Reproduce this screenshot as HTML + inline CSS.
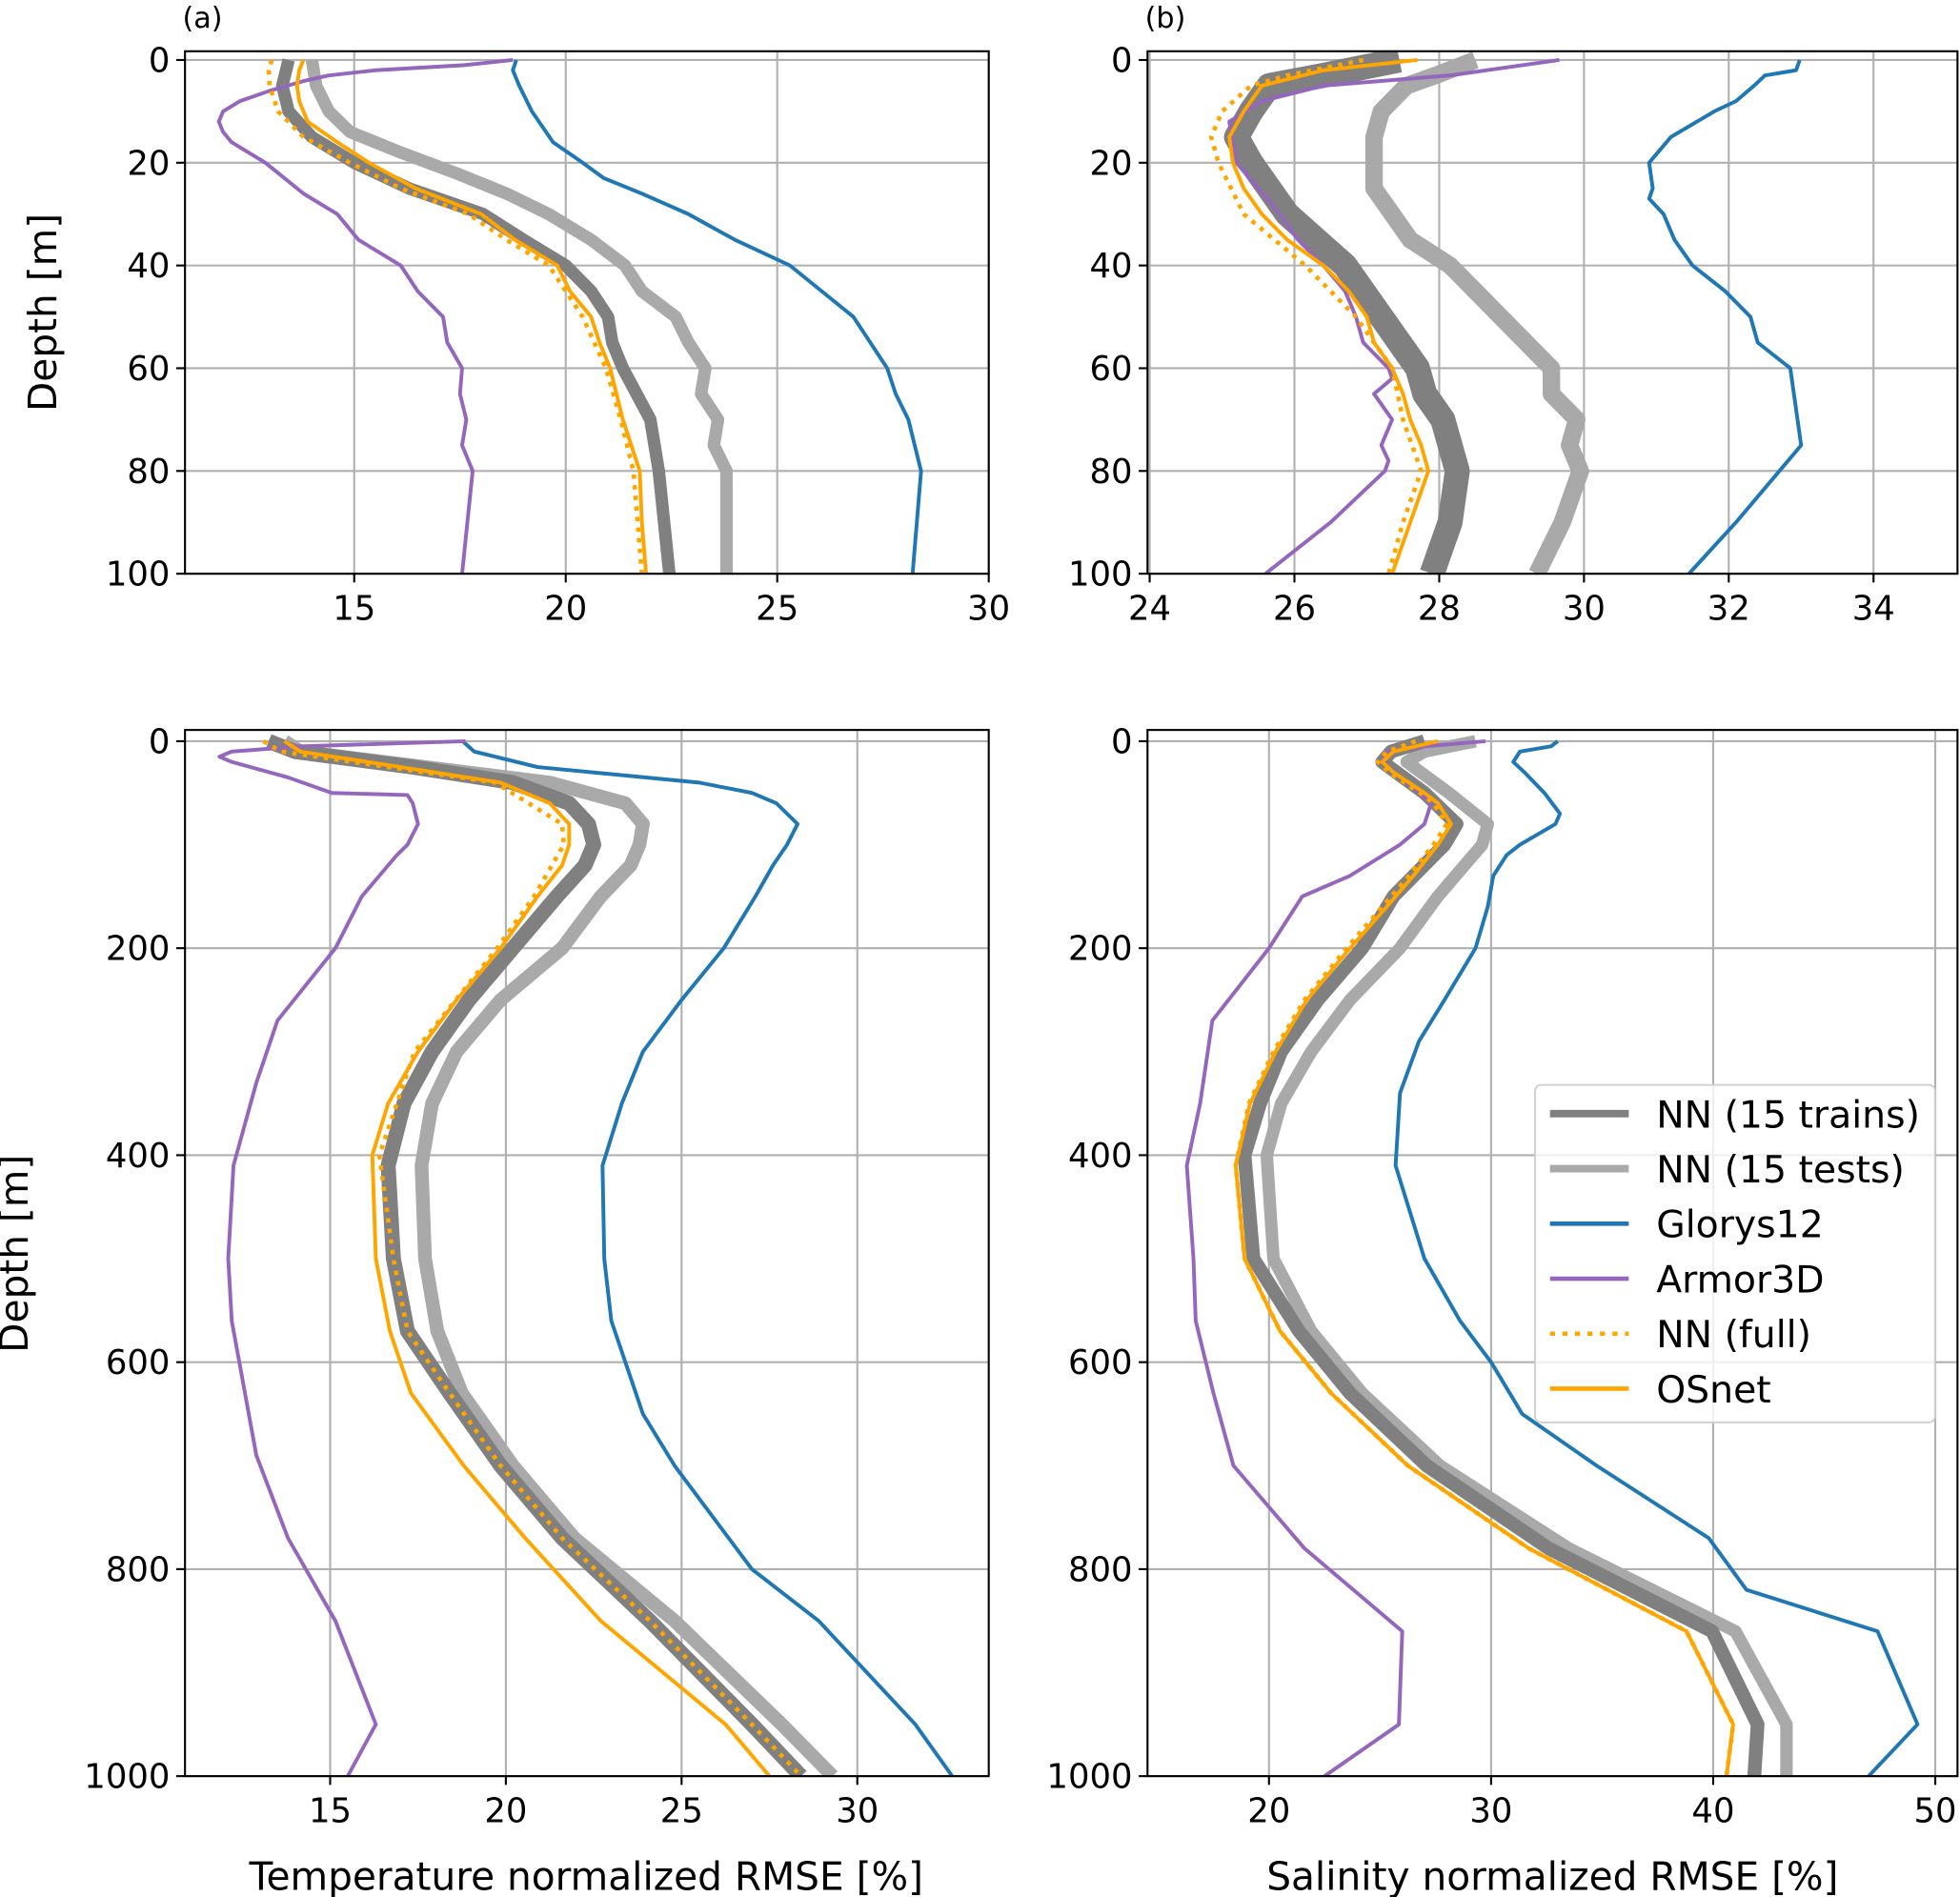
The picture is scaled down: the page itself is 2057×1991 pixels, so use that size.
<!DOCTYPE html>
<html><head><meta charset="utf-8"><style>
html,body{margin:0;padding:0;background:#fff}
svg{display:block}
text{font-family:"DejaVu Sans","Liberation Sans",sans-serif;fill:#000}
</style></head><body>
<svg id="fig" width="2057" height="1991" viewBox="0 0 1568 1517.7" xmlns="http://www.w3.org/2000/svg"></svg>
<script>
// ---- Panel (a): temperature 0-100 m ----
const aGloD=[0,2,5,10,16,20,23,26,30,35,40,50,60,65,70,80,90,100];
const aGloV=[18.83,18.75,18.9,19.2,19.7,20.4,20.9,21.8,22.9,24.0,25.3,26.8,27.6,27.8,28.1,28.4,28.3,28.2];
const aArmD=[0,1,2,3,4,6,8,10,12,14,16,20,26,30,35,40,45,50,55,60,65,70,75,80,100];
const aArmV=[18.75,17.6,15.5,14.4,13.85,13.0,12.3,11.9,11.8,11.9,12.1,12.9,13.8,14.6,15.1,16.1,16.5,17.1,17.2,17.55,17.5,17.65,17.55,17.8,17.55];
const aOsD=[0,2,5,8,12,16,20,25,30,35,40,45,50,55,60,70,80,90,100];
const aOsV=[13.8,13.7,13.65,13.7,13.9,14.6,15.35,16.45,18.0,18.8,19.8,20.1,20.6,20.8,21.05,21.35,21.75,21.8,21.9];
const aFullD=[0,2,5,10,15,20,25,30,35,40,50,60,70,80,100];
const aFullV=[13.05,12.98,13.0,13.2,13.8,14.9,16.1,17.7,18.6,19.6,20.4,20.95,21.3,21.6,21.8];
const aTrD=[0,5,10,15,20,25,30,35,40,45,50,55,60,70,80,100];
const aTrV=[13.45,13.3,13.45,14.0,15.0,16.3,18.05,19.0,20.0,20.6,21.0,21.1,21.35,22.0,22.2,22.45];
const aTeD=[0,5,10,14,18,22,26,30,35,40,45,50,55,60,65,70,75,80,100];
const aTeV=[14.0,14.1,14.4,14.9,16.1,17.4,18.6,19.6,20.6,21.4,21.8,22.6,22.9,23.3,23.2,23.6,23.5,23.8,23.8];
// ---- Panel (b): salinity 0-100 m ----
const bGloD=[0,2,3,5,8,10,15,20,25,27,30,35,40,45,50,55,60,70,75,80,90,100];
const bGloV=[32.98,32.93,32.5,32.35,32.1,31.8,31.2,30.9,30.95,30.9,31.1,31.25,31.5,31.95,32.3,32.4,32.85,32.95,33.0,32.7,32.1,31.45];
const bArmD=[0,3,5,8,12,20,30,35,40,45,50,55,60,62,65,70,75,78,80,90,100];
const bArmV=[29.66,28.15,26.4,25.55,25.1,25.2,25.8,26.05,26.4,26.7,26.85,26.95,27.3,27.35,27.1,27.35,27.2,27.3,27.25,26.5,25.6];
const bOsD=[0,2,5,10,15,20,25,30,35,40,45,50,55,60,65,70,75,80,90,100];
const bOsV=[27.7,26.4,25.55,25.3,25.1,25.15,25.3,25.55,25.9,26.4,26.75,27.0,27.1,27.35,27.5,27.6,27.75,27.85,27.6,27.35];
const bFullD=[0,3,5,10,15,20,30,40,50,60,70,80,90,100];
const bFullV=[26.95,25.9,25.4,25.0,24.85,24.95,25.3,26.15,26.85,27.35,27.5,27.75,27.5,27.3];
const bTrD=[0,3,5,10,15,20,30,40,50,60,65,70,80,90,100];
const bTrV=[27.45,26.4,25.65,25.4,25.2,25.4,25.9,26.7,27.2,27.7,27.8,28.05,28.25,28.15,27.9];
const bTeD=[0,3,5,10,15,20,25,30,35,40,45,50,55,60,65,70,75,80,90,100];
const bTeV=[28.5,27.95,27.55,27.2,27.1,27.1,27.1,27.35,27.6,28.15,28.5,28.85,29.2,29.55,29.55,29.9,29.8,29.95,29.7,29.35];
// ---- Panel (c): temperature 0-1000 m ----
const cGloD=[0,10,25,40,50,60,80,100,120,150,200,250,300,350,410,500,560,650,700,800,850,950,1000];
const cGloV=[18.77,19.1,20.9,25.5,27.0,27.7,28.3,28.0,27.6,27.1,26.2,25.0,23.9,23.3,22.75,22.8,23.0,23.9,24.8,27.0,28.9,31.65,32.7];
const cArmD=[0,5,10,15,20,35,50,52,60,80,100,110,150,200,270,330,410,500,560,690,770,850,950,1000];
const cArmV=[18.85,14.15,12.2,11.85,12.2,13.8,15.05,17.2,17.35,17.5,17.2,16.9,15.9,15.15,13.5,12.9,12.25,12.1,12.2,12.9,13.8,15.15,16.3,15.5];
const cOsD=[0,10,25,40,60,80,100,120,150,200,250,300,350,400,500,570,630,700,770,850,950,1000];
const cOsV=[13.7,14.15,17.0,19.85,21.25,21.8,21.8,21.6,20.9,19.85,18.6,17.5,16.65,16.2,16.3,16.7,17.3,18.8,20.55,22.7,26.25,27.5];
const cFullD=[0,10,25,40,80,100,150,200,300,400,500,570,630,700,770,850,950,1000];
const cFullV=[13.1,13.6,16.65,19.7,21.6,21.65,20.8,19.75,17.4,16.4,16.8,17.2,18.4,19.85,21.6,24.1,27.0,28.4];
const cTrD=[0,10,25,40,60,80,100,120,150,200,250,300,350,410,500,570,630,700,770,850,950,1000];
const cTrV=[13.25,14.0,17.35,20.2,21.8,22.35,22.5,22.25,21.45,20.2,18.95,17.9,17.1,16.65,16.8,17.2,18.4,19.85,21.6,24.1,27.0,28.4];
const cTeD=[0,10,25,40,60,80,100,120,150,200,250,300,350,410,500,570,630,700,770,850,950,1000];
const cTeV=[13.7,14.15,17.7,21.25,23.4,23.9,23.8,23.55,22.7,21.6,19.85,18.6,17.9,17.6,17.7,18.05,18.75,20.2,21.95,24.8,27.85,29.3];
// ---- Panel (d): salinity 0-1000 m ----
const dGloD=[0,5,10,20,30,50,70,80,100,110,130,160,200,250,290,340,410,500,560,600,650,700,770,820,860,950,1000];
const dGloV=[33.0,32.7,31.3,31.0,31.5,32.4,33.1,32.9,31.3,30.7,30.1,29.85,29.3,27.9,26.75,25.9,25.7,27.0,28.6,30.0,31.4,34.75,39.8,41.5,47.4,49.2,47.0];
const dArmD=[0,5,10,20,60,80,100,130,150,200,270,350,410,500,560,630,700,780,860,950,1000];
const dArmV=[29.75,27.0,25.35,25.1,27.3,27.0,25.9,23.65,21.5,20.0,17.45,16.9,16.3,16.6,16.7,17.5,18.4,21.6,26.0,25.85,22.5];
const dOsD=[0,10,20,30,50,60,80,100,130,160,200,250,300,350,410,500,570,630,700,780,860,950,1000];
const dOsV=[27.6,25.6,25.1,25.6,27.0,27.6,28.2,27.6,26.5,25.3,23.65,21.7,20.3,19.15,18.5,18.9,20.5,22.8,26.25,31.7,38.8,40.9,40.6];
const dFullD=[0,10,20,30,50,60,80,100,130,160,200,250,300,350,410,500,570,630,700,780,860,950,1000];
const dFullV=[26.6,25.3,24.9,25.4,26.8,27.4,28.0,27.4,26.3,25.1,23.5,21.6,20.2,19.1,18.5,18.9,20.5,22.8,26.25,31.7,38.8,40.9,40.6];
const dTrD=[0,10,20,50,80,100,150,200,250,300,350,400,500,570,630,700,780,860,950,1000];
const dTrV=[27.0,25.5,25.1,27.0,28.45,27.9,25.6,24.2,22.2,20.55,19.6,18.9,19.3,21.35,23.65,27.1,32.6,39.95,42.0,41.85];
const dTeD=[0,10,20,50,80,100,150,200,250,300,350,400,500,570,630,700,780,860,950,1000];
const dTeV=[29.3,27.0,26.2,28.1,29.85,29.6,27.6,25.9,23.65,21.9,20.55,19.9,20.2,21.9,24.2,27.7,33.5,41.0,43.3,43.3];
// ticks
const aXTicks=[15,20,25,30], bXTicks=[24,26,28,30,32,34], cXTicks=[15,20,25,30], dXTicks=[20,30,40,50];
const topYTicks=[0,20,40,60,80,100], botYTicks=[0,200,400,600,800,1000];
const legendLabels=["NN (15 trains)","NN (15 tests)","Glorys12","Armor3D","NN (full)","OSnet"];

const NS="http://www.w3.org/2000/svg";
const svg=document.getElementById('fig');
function mk(tag,attrs,parent){const e=document.createElementNS(NS,tag);for(const k in attrs)e.setAttribute(k,attrs[k]);(parent||svg).appendChild(e);return e;}
const C={tr:'#808080',te:'#a9a9a9',glo:'#1f77b4',arm:'#9467bd',or:'#ffa500'};

function panel(id,x0,x1,y0,y1,xmin,xmax,d0px,dEnd,dEndPx,xt,yt,trW,teW,S,label){
  const g=mk('g',{});
  
  
  const X=v=>x0+(v-xmin)/(xmax-xmin)*(x1-x0);
  const Y=d=>d0px+d/dEnd*(dEndPx-d0px);
  const cp=mk('clipPath',{id:'clip'+id},g);
  mk('rect',{x:x0,y:y0,width:x1-x0,height:y1-y0},cp);
  xt.forEach(v=>{const l=mk('line',{x1:X(v),x2:X(v),y1:y0,y2:y1,stroke:'#b0b0b0','stroke-width':1.6},g);});
  yt.forEach(v=>{const l=mk('line',{x1:x0,x2:x1,y1:Y(v),y2:Y(v),stroke:'#b0b0b0','stroke-width':1.6},g);});
  const pg=mk('g',{'clip-path':'url(#clip'+id+')'},g);
  function line(D,V,col,w,name,dash){
    const pts=D.map((d,i)=>X(V[i]).toFixed(2)+','+Y(d).toFixed(2)).join(' ');
    const a={points:pts,fill:'none',stroke:col,'stroke-width':w,'stroke-linejoin':'round'};
    if(dash)a['stroke-dasharray']=dash;
    const p=mk('polyline',a,pg);
    
    
  }
  line(S.teD,S.teV,C.te,teW,'nn-tests-line');
  line(S.trD,S.trV,C.tr,trW,'nn-trains-line');
  line(S.gloD,S.gloV,C.glo,3,'glorys12-line');
  line(S.armD,S.armV,C.arm,3,'armor3d-line');
  line(S.fullD,S.fullV,C.or,3.5,'nn-full-line','3.5,5');
  line(S.osD,S.osV,C.or,3,'osnet-line');
  const sp=mk('rect',{x:x0,y:y0,width:x1-x0,height:y1-y0,fill:'none',stroke:'#000','stroke-width':1.6},g);
  
  xt.forEach(v=>{mk('line',{x1:X(v),x2:X(v),y1:y1,y2:y1+7,stroke:'#000','stroke-width':1.6},g);
    const t=mk('text',{x:X(v),y:y1+37,'font-size':27,'text-anchor':'middle'},g);t.textContent=v;
    });
  yt.forEach(v=>{mk('line',{x1:x0-7,x2:x0,y1:Y(v),y2:Y(v),stroke:'#000','stroke-width':1.6},g);
    const t=mk('text',{x:x0-12,y:Y(v)+9.5,'font-size':27,'text-anchor':'end'},g);t.textContent=v;
    });
  if(label){const t=mk('text',{x:x0-2,y:22,'font-size':23},g);t.textContent=label;
    }
}
panel('a',148,791,41,459,11,30,48,100,459,aXTicks,topYTicks,10,10,
 {gloD:aGloD,gloV:aGloV,armD:aArmD,armV:aArmV,osD:aOsD,osV:aOsV,fullD:aFullD,fullV:aFullV,trD:aTrD,trV:aTrV,teD:aTeD,teV:aTeV},'(a)');
panel('b',918,1566,41,459,23.97,35.16,48,100,459,bXTicks,topYTicks,20,14,
 {gloD:bGloD,gloV:bGloV,armD:bArmD,armV:bArmV,osD:bOsD,osV:bOsV,fullD:bFullD,fullV:bFullV,trD:bTrD,trV:bTrV,teD:bTeD,teV:bTeV},'(b)');
panel('c',148,791,584,1421,10.87,33.74,593,1000,1421,cXTicks,botYTicks,12,11,
 {gloD:cGloD,gloV:cGloV,armD:cArmD,armV:cArmV,osD:cOsD,osV:cOsV,fullD:cFullD,fullV:cFullV,trD:cTrD,trV:cTrV,teD:cTeD,teV:cTeV},null);
panel('d',918,1566,584,1421,14.53,51.0,593,1000,1421,dXTicks,botYTicks,11,10,
 {gloD:dGloD,gloV:dGloV,armD:dArmD,armV:dArmV,osD:dOsD,osV:dOsV,fullD:dFullD,fullV:dFullV,trD:dTrD,trV:dTrV,teD:dTeD,teV:dTeV},null);

function txt(s,attrs,name){const t=mk('text',attrs);t.textContent=s;return t;}
txt('Depth [m]',{x:0,y:0,'font-size':31,'text-anchor':'middle',transform:'translate(45,250) rotate(-90)'},'y-axis-title-top');
txt('Depth [m]',{x:0,y:0,'font-size':31,'text-anchor':'middle',transform:'translate(22,1003) rotate(-90)'},'y-axis-title-bottom');
txt('Temperature normalized RMSE [%]',{x:469,y:1512,'font-size':31,'text-anchor':'middle'},'x-axis-title-temperature');
txt('Salinity normalized RMSE [%]',{x:1242,y:1512,'font-size':31,'text-anchor':'middle'},'x-axis-title-salinity');

const lg=mk('g',{});


mk('rect',{x:1228,y:868,width:320,height:270,rx:5,fill:'#fff','fill-opacity':0.8,stroke:'#d0d0d0','stroke-width':1.5},lg);
const lgCols=[C.tr,C.te,C.glo,C.arm,C.or,C.or];
const lgW=[6,6,3.5,3.5,3.5,3.5];
legendLabels.forEach((s,i)=>{
  const y=891+i*44;
  const a={x1:1240,x2:1303,y1:y,y2:y,stroke:lgCols[i],'stroke-width':lgW[i]};
  if(i===4)a['stroke-dasharray']='4,6';
  const l=mk('line',a,lg);
  
  
  const t=mk('text',{x:1325,y:y+11,'font-size':30},lg);
  t.textContent=s;
  
  
});
</script>
</body></html>
